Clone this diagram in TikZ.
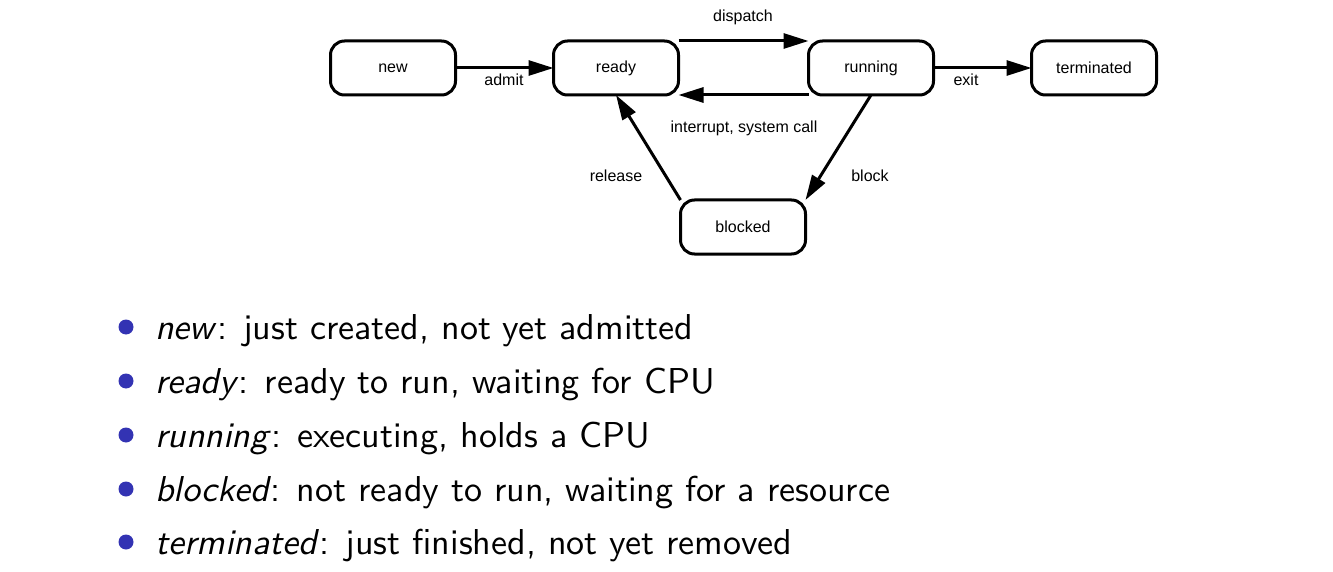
\documentclass[tikz,border=0pt]{standalone}
\usepackage{fontspec}
\newfontfamily\diagfont{Liberation Sans}
\newfontfamily\itemfont{lmsans10-regular.otf}[ItalicFont=lmsans10-oblique.otf]
\usetikzlibrary{arrows.meta}
\definecolor{beamerblue}{RGB}{51,51,179}
\begin{document}
\begin{tikzpicture}[x=1pt,y=-1pt,
  state/.style={draw,line width=3pt,rounded corners=14pt,minimum width=125pt,minimum height=54pt,inner sep=0pt,outer sep=0pt,font=\diagfont\fontsize{16}{18}\selectfont},
  trans/.style={line width=3pt,-{Triangle[length=25pt,width=15pt]},shorten >=0pt},
  lbl/.style={font=\diagfont\fontsize{16}{18}\selectfont,inner sep=0pt},
  itemtext/.style={anchor=base west,inner sep=0pt,font=\itemfont\fontsize{36}{40}\selectfont},
  bul/.style={circle,fill=beamerblue,minimum size=15pt,inner sep=0pt}]
\useasboundingbox (0,0) rectangle (1333,572);
\node[state] (new) at (393,68) {new};
\node[state] (ready) at (616,68) {ready};
\node[state] (running) at (871,68) {running};
\node[state] (term) at (1094,68) {terminated};
\node[state] (blocked) at (743,227) {blocked};
\draw[trans] (new.east) -- (ready.west);
\draw[trans] (ready.north east) -- (running.north west);
\draw[trans] (running.south west) -- (ready.south east);
\draw[trans] (running.east) -- (term.west);
\draw[trans] (running.south) -- (blocked.north east);
\draw[trans] (blocked.north west) -- (ready.south);
\node[lbl] (ladmit) at (504,80) {admit};
\node[lbl] (ldispatch) at (743,17) {dispatch};
\node[lbl] (lint) at (744,128) {interrupt, system call};
\node[lbl] (lexit) at (966,80) {exit};
\node[lbl] (lblock) at (870,176) {block};
\node[lbl] (lrelease) at (616,176) {release};
\node[bul] (b1) at (126,327) {};
\node[bul] (b2) at (126,381) {};
\node[bul] (b3) at (126,435) {};
\node[bul] (b4) at (126,489) {};
\node[bul] (b5) at (126,542) {};
\node[itemtext] (t1) at (155,339) {\textit{new}: just created, not yet admitted};
\node[itemtext] (t2) at (155,393) {\textit{ready}: ready to run, waiting for CPU};
\node[itemtext] (t3) at (155,447) {\textit{running}: executing, holds a CPU};
\node[itemtext] (t4) at (155,501) {\textit{blocked}: not ready to run, waiting for a resource};
\node[itemtext] (t5) at (155,554) {\textit{terminated}: just finished, not yet removed};
\end{tikzpicture}
\end{document}
